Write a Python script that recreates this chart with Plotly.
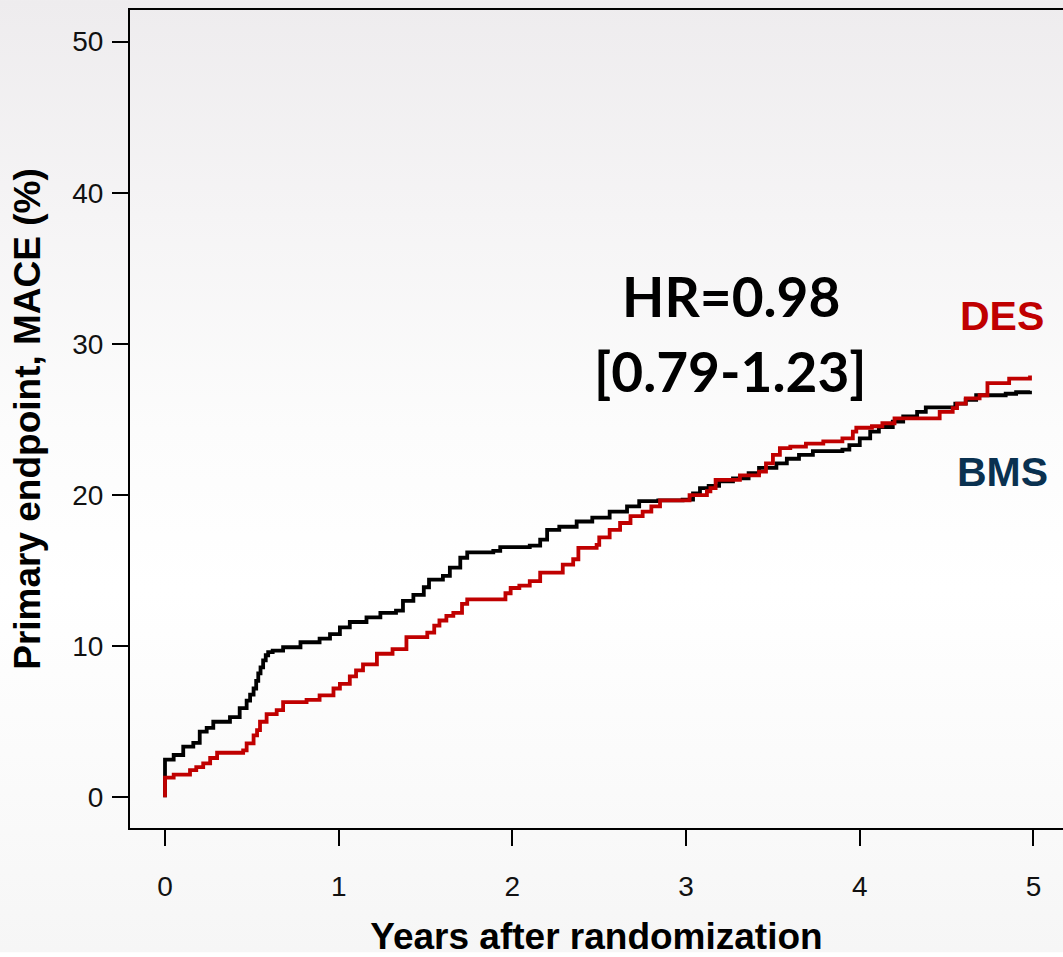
import base64
import plotly.graph_objects as go

# ---- data (Kaplan-Meier style step curves) ----
bms_years = [0, 0, 0.05, 0.105, 0.163, 0.2, 0.24, 0.278, 0.374, 0.43,
             0.47, 0.49, 0.51, 0.525, 0.537, 0.55, 0.565, 0.58, 0.594, 0.62,
             0.68, 0.78, 0.89, 0.95, 1.007, 1.064, 1.16, 1.24, 1.33, 1.37,
             1.43, 1.49, 1.52, 1.6, 1.64, 1.70, 1.74, 1.89, 1.93, 2.1,
             2.16, 2.2, 2.27, 2.37, 2.46, 2.56, 2.66, 2.73, 2.84, 2.98,
             3.04, 3.08, 3.13, 3.19, 3.27, 3.36, 3.42, 3.52, 3.58, 3.65,
             3.73, 3.9, 3.94, 4.0, 4.06, 4.11, 4.19, 4.25, 4.33, 4.38,
             4.55, 4.61, 4.67, 4.84, 4.9, 4.98]
bms_mace = [0, 2.5, 2.8, 3.35, 3.6, 4.35, 4.6, 5.0, 5.3, 5.9,
            6.4, 6.8, 7.2, 7.7, 8.2, 8.6, 9.06, 9.4, 9.6, 9.7,
            9.93, 10.26, 10.5, 10.8, 11.25, 11.6, 11.9, 12.2, 12.35, 13.0,
            13.4, 13.9, 14.4, 14.65, 15.2, 15.85, 16.2, 16.3, 16.55, 16.65,
            17.05, 17.7, 17.9, 18.25, 18.5, 18.9, 19.25, 19.6, 19.65, 19.7,
            20.1, 20.46, 20.6, 20.9, 21.1, 21.45, 21.8, 22.1, 22.4, 22.65,
            22.9, 23.0, 23.3, 23.75, 24.2, 24.5, 24.85, 25.2, 25.5, 25.8,
            26.05, 26.3, 26.6, 26.7, 26.8, 26.9]

des_years = [0, 0, 0.05, 0.144, 0.18, 0.22, 0.26, 0.3, 0.45, 0.47,
             0.51, 0.53, 0.547, 0.585, 0.643, 0.68, 0.815, 0.89, 0.97, 1.007,
             1.064, 1.1, 1.14, 1.22, 1.31, 1.39, 1.51, 1.55, 1.58, 1.62,
             1.66, 1.71, 1.74, 1.96, 1.99, 2.04, 2.1, 2.16, 2.29, 2.35,
             2.38, 2.485, 2.5, 2.56, 2.62, 2.68, 2.75, 2.8, 2.85, 3.02,
             3.12, 3.14, 3.17, 3.31, 3.42, 3.46, 3.5, 3.54, 3.6, 3.69,
             3.79, 3.9, 3.96, 3.98, 4.07, 4.13, 4.2, 4.46, 4.535, 4.56,
             4.61, 4.69, 4.735, 4.86, 4.98]
des_mace = [0, 1.3, 1.5, 1.8, 2.0, 2.25, 2.6, 2.95, 3.1, 3.57,
            4.1, 4.45, 5.0, 5.5, 5.77, 6.3, 6.45, 6.75, 7.2, 7.5,
            8.0, 8.4, 8.8, 9.5, 9.8, 10.6, 10.9, 11.36, 11.7, 12.0,
            12.2, 12.8, 13.1, 13.5, 13.85, 14.0, 14.3, 14.87, 15.4, 15.75,
            16.5, 16.7, 17.2, 17.7, 18.15, 18.6, 18.9, 19.25, 19.65, 20.0,
            20.25, 20.46, 21.0, 21.3, 21.55, 22.1, 22.65, 23.1, 23.2, 23.4,
            23.55, 23.75, 24.2, 24.45, 24.55, 24.75, 25.07, 25.5, 25.75, 26.05,
            26.4, 26.6, 27.4, 27.7, 27.9]

x_ticks = [0, 1, 2, 3, 4, 5]
y_ticks = [0, 10, 20, 30, 40, 50]
hr_line1 = "HR=0.98"
hr_line2 = "[0.79-1.23]"

assert len(bms_years) == len(bms_mace)
assert len(des_years) == len(des_mace)

BLACK = "#000000"
RED = "#c00000"
NAVY = "#0a3150"

fig = go.Figure()
fig.add_trace(go.Scatter(x=bms_years, y=bms_mace, mode="lines", name="BMS",
                         line=dict(color=BLACK, width=3.8, shape="hv"),
                         showlegend=False))
fig.add_trace(go.Scatter(x=des_years, y=des_mace, mode="lines", name="DES",
                         line=dict(color=RED, width=3.8, shape="hv"),
                         showlegend=False))

# background gradient (slide-like) as an svg image
svg = ('<svg xmlns="http://www.w3.org/2000/svg" width="100" height="100" preserveAspectRatio="none">'
       '<defs><linearGradient id="g" x1="0" y1="0" x2="0" y2="1">'
       '<stop offset="0" stop-color="#eeecee"/>'
       '<stop offset="0.45" stop-color="#fcfcfc"/>'
       '<stop offset="0.62" stop-color="#ffffff"/>'
       '<stop offset="1" stop-color="#f6f6f6"/>'
       '</linearGradient></defs>'
       '<rect width="100" height="100" fill="url(#g)"/></svg>')
src = "data:image/svg+xml;base64," + base64.b64encode(svg.encode()).decode()

W, H = 1063, 957
ML, MR, MT, MB = 130, 0, 10, 125
pw, ph = W - ML - MR, H - MT - MB

fig.add_layout_image(dict(source=src, xref="paper", yref="paper",
                          x=-ML / pw, y=1 + MT / ph,
                          sizex=W / pw, sizey=H / ph,
                          xanchor="left", yanchor="top",
                          sizing="stretch", layer="below"))

tick_font = dict(family="Liberation Sans, Arial, sans-serif", size=28, color="#111111")
title_font = dict(family="Liberation Sans, Arial, sans-serif", size=37, color="#000000")

fig.update_layout(
    width=W, height=H,
    margin=dict(l=ML, r=MR, t=MT, b=MB, pad=0),
    paper_bgcolor="white",
    plot_bgcolor="rgba(0,0,0,0)",
    xaxis=dict(range=[-0.2015, 5.170], tickvals=x_ticks, ticks="outside",
               ticklen=16, tickwidth=2, tickcolor=BLACK,
               showline=True, linecolor=BLACK, linewidth=2, mirror=True,
               showgrid=False, zeroline=False, tickfont=tick_font,
               ticklabelstandoff=16,
               title=dict(text="<b>Years after randomization</b>", font=title_font,
                          standoff=30)),
    yaxis=dict(range=[-2.03, 52.09], tickvals=y_ticks, ticks="outside",
               ticklen=16, tickwidth=2, tickcolor=BLACK,
               showline=True, linecolor=BLACK, linewidth=2, mirror=False,
               showgrid=False, zeroline=False, tickfont=tick_font,
               ticklabelstandoff=3,
               title=dict(text="<b>Primary endpoint, MACE (%)</b>", font=title_font,
                          standoff=20)),
)

hr_font = dict(family="Lato, Open Sans, sans-serif", size=55, color="#000000")
fig.add_annotation(x=3.258, y=33.16, text="<b>" + hr_line1 + "</b>", showarrow=False,
                   font=hr_font, xanchor="center", yanchor="middle")
fig.add_annotation(x=3.258, y=28.19, text="<b>" + hr_line2 + "</b>", showarrow=False,
                   font=hr_font, xanchor="center", yanchor="middle")
lab_font = dict(family="Liberation Sans, Arial, sans-serif", size=41)
fig.add_annotation(x=4.819, y=31.87, text="<b>DES</b>", showarrow=False,
                   font=dict(lab_font, color=RED), xanchor="center", yanchor="middle")
fig.add_annotation(x=4.819, y=21.54, text="<b>BMS</b>", showarrow=False,
                   font=dict(lab_font, color=NAVY), xanchor="center", yanchor="middle")

fig.write_html("out.html", config={"displayModeBar": False},
               post_script="document.body.style.margin='0';")
